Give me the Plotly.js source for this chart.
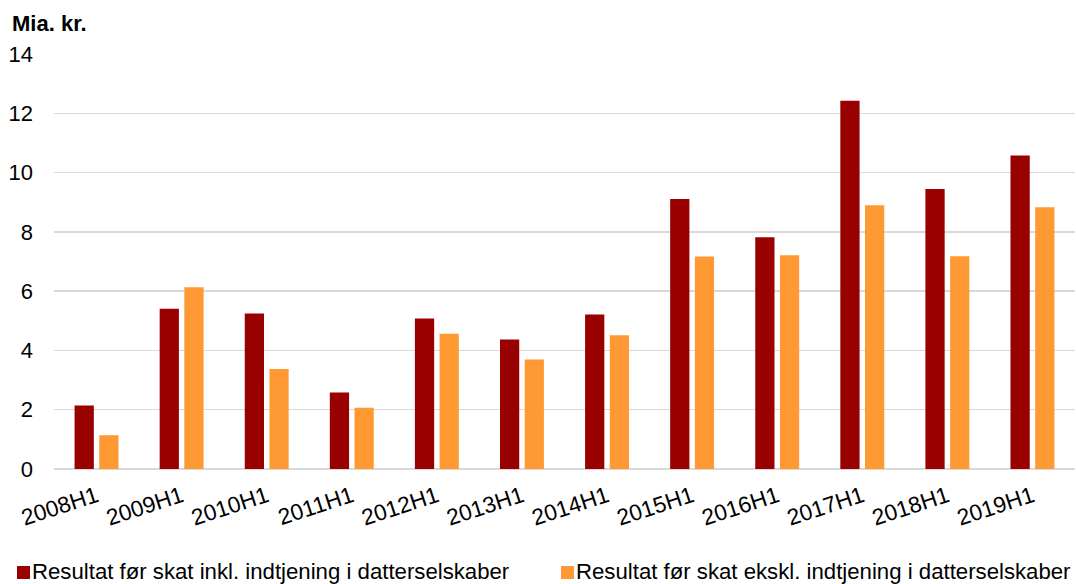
<!DOCTYPE html>
<html><head><meta charset="utf-8">
<script src="https://cdn.plot.ly/plotly-3.0.1.min.js"></script>
<style>body{margin:0;background:#fff}#c{width:1076px;height:584px}</style>
</head><body><div id="c"></div>
<script>
const categories = ["2008H1","2009H1","2010H1","2011H1","2012H1","2013H1","2014H1","2015H1","2016H1","2017H1","2018H1","2019H1"];
const inklValues = [2.14,5.41,5.25,2.58,5.08,4.37,5.21,9.11,7.82,12.42,9.45,10.58];
const eksklValues = [1.14,6.13,3.37,2.07,4.56,3.69,4.51,7.17,7.21,8.90,7.18,8.83];
const seriesNames = ["Resultat før skat inkl. indtjening i datterselskaber","Resultat før skat ekskl. indtjening i datterselskaber"];
const seriesColors = ["#990000","#ff9933"];
const yTicks = [0,2,4,6,8,10,12,14];
const unitLabel = "Mia. kr.";

const font = "Liberation Sans, Arial, sans-serif";
const traces = [
  {type:"bar", x:categories, y:inklValues, name:seriesNames[0], marker:{color:seriesColors[0]}},
  {type:"bar", x:categories, y:eksklValues, name:seriesNames[1], marker:{color:seriesColors[1]}}
];
const W = 1076, H = 584, mL = 54, mR = 1, mT = 54, mB = 115;
const pw = W - mL - mR, ph = H - mT - mB;
const px = v => (v - mL) / pw;
const py = v => (H - mB - v) / ph;
const legendX = [17, 561];
const shapes = [], annotations = [];
seriesNames.forEach((n, i) => {
  shapes.push({type:"rect", xref:"paper", yref:"paper", x0:px(legendX[i]), x1:px(legendX[i]+13),
    y0:py(579), y1:py(566), fillcolor:seriesColors[i], line:{width:0}});
  annotations.push({text:n, xref:"paper", yref:"paper", x:px(legendX[i]+16), y:py(571),
    xanchor:"left", yanchor:"middle", showarrow:false, font:{size:22.2}, xshift:-2, borderpad:0});
});
annotations.push({text:"<b>"+unitLabel+"</b>", xref:"paper", yref:"paper", x:px(10), y:py(24),
    xanchor:"left", yanchor:"middle", showarrow:false, font:{size:22}});
const layout = {
  width:W, height:H,
  margin:{l:mL, r:mR, t:mT, b:mB},
  paper_bgcolor:"#fff", plot_bgcolor:"#fff",
  font:{family:font, size:22, color:"#000"},
  barmode:"group", bargap:0.42, bargroupgap:0.22,
  xaxis:{tickangle:-18, showgrid:false, zeroline:false, showline:false, ticks:"",
         ticklabelstandoff:9, tickfont:{size:22.7}},
  yaxis:{range:[0,14], tickvals:yTicks, showgrid:true, gridcolor:"#d9d9d9", gridwidth:1.5,
         zeroline:true, zerolinecolor:"#d9d9d9", zerolinewidth:1.5, showline:false,
         ticks:"", ticklabelstandoff:20, tickfont:{size:22}},
  showlegend:false,
  shapes:shapes, annotations:annotations
};
Plotly.newPlot("c", traces, layout, {displayModeBar:false, staticPlot:true});
</script></body></html>
